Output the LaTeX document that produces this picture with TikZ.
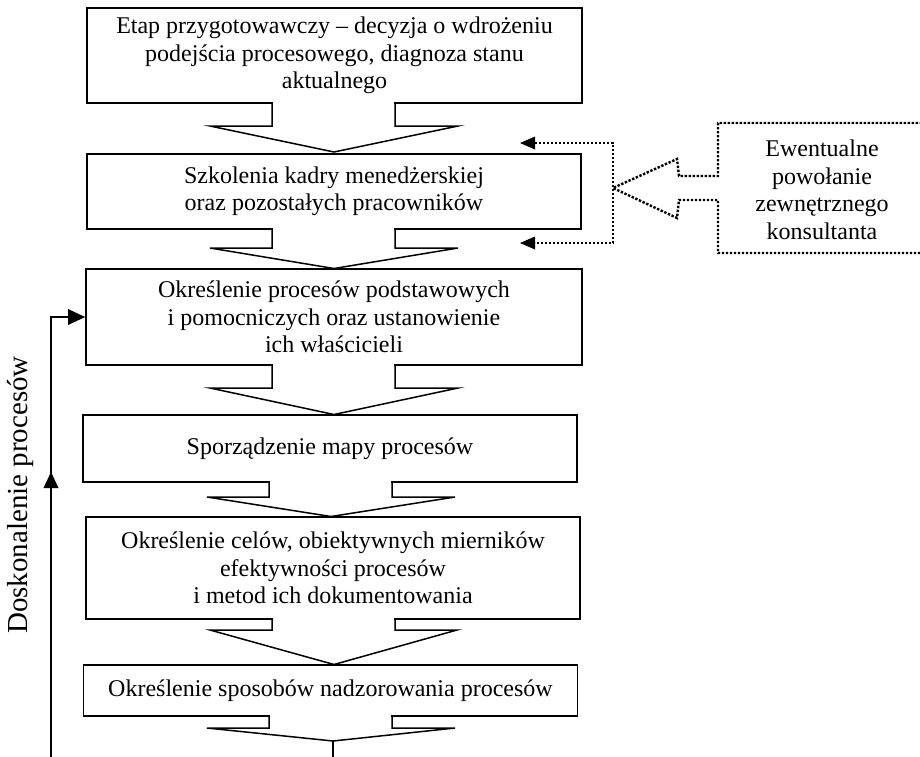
\documentclass[tikz,border=0pt]{standalone}
\usepackage{fontspec}
\setmainfont{Liberation Serif}
\usetikzlibrary{arrows.meta}
\newcommand{\blkarrow}[8]{%
  \fill[white] ({#2+1},{#1-2.5}) rectangle ({#3-1},{#1+2.5});
  \draw[blk] (#2,#1) -- (#2,#4) -- (#5,#4) -- (#7,#8) -- (#6,#4) -- (#3,#4) -- (#3,#1);
}
\begin{document}
\begin{tikzpicture}[x=1pt,y=-1pt,
  stepbox/.style={draw, line width=1.7pt, rectangle, inner sep=0pt, align=center,
    font=\fontsize{24}{27.5}\selectfont},
  blk/.style={line width=1.5pt, line join=miter},
  dots/.style={line width=2.4pt, dash pattern=on 2.4pt off 1.6pt},
  lbl/.style={font=\fontsize{24}{27.5}\selectfont, align=center, inner sep=0pt}]
\useasboundingbox (0,0) rectangle (920,756);
\clip (0,0) rectangle (920,756);
\fill[white] (0,0) rectangle (920,756);

% main boxes
\node[stepbox, minimum width=495pt, minimum height=95pt] (b1) at (334.5,55.5)
  {Etap przygotowawczy – decyzja o wdrożeniu\\podejścia procesowego, diagnoza stanu\\aktualnego};
\node[stepbox, minimum width=494pt, minimum height=75pt] (b2) at (334,191.5)
  {Szkolenia kadry menedżerskiej\\oraz pozostałych pracowników};
\node[stepbox, minimum width=496pt, minimum height=96pt] (b3) at (334,317)
  {Określenie procesów podstawowych\\i pomocniczych oraz ustanowienie\\ich właścicieli};
\node[stepbox, minimum width=494pt, minimum height=67pt] (b4) at (330,448.5)
  {Sporządzenie mapy procesów};
\node[stepbox, minimum width=494pt, minimum height=102pt] (b5) at (333,568)
  {Określenie celów, obiektywnych mierników\\efektywności procesów\\i metod ich dokumentowania};
\node[stepbox, minimum width=494pt, minimum height=51pt] (b6) at (330.5,690.5)
  {Określenie sposobów nadzorowania procesów};

% block arrows between boxes
\blkarrow{103}{272}{395}{126}{210}{458}{334}{152}
\blkarrow{229}{272}{395}{248}{210}{458}{334}{268.5}
\blkarrow{365}{272}{395}{388}{210}{458}{334}{414.5}
\blkarrow{482}{269}{392}{497}{207}{455}{331}{516.5}
\blkarrow{619}{272}{395}{630}{210}{457}{334}{664.5}
\blkarrow{716}{269}{392}{728}{207}{455}{333}{741}
\coordinate (tip6) at (333,741);
\coordinate (out6) at (333,760);
\draw[blk] (tip6) -- (out6);

% feedback loop on the left
\coordinate (fbB) at (51,760);
\coordinate (fbC) at (51,317);
\coordinate (fbE) at (69,317);
\draw[blk] (fbB) -- (fbC) -- (fbE);
\fill (b3.west) -- (68,309) -- (68,325) -- cycle;
\fill (51,472) -- (43.5,488) -- (58.5,488) -- cycle;
\node[rotate=90, font=\fontsize{29}{30}\selectfont, inner sep=0pt] (dosk) at (21,495) {Doskonalenie procesów};

% consultant (dotted) block arrow
\coordinate (J) at (613,188);
\draw[dots] (930,123) -- (718,123) -- (718,176) -- (679,176) -- (677,159) -- (J)
  -- (677,218) -- (679,200) -- (718,200) -- (718,253) -- (930,253);
\node[lbl] (cons) at (822,190) {Ewentualne\\powołanie\\zewnętrznego\\konsultanta};

% dotted arrows from the junction
\coordinate (up) at (613,143);
\coordinate (dn) at (613,243);
\coordinate (upB) at (535,143);
\coordinate (dnB) at (535,243);
\coordinate (upT) at (520,143);
\coordinate (dnT) at (520,243);
\draw[dots] (upB) -- (up) -- (dn) -- (dnB);
\fill (upT) -- (535,136.5) -- (535,149.5) -- cycle;
\fill (dnT) -- (535,236.5) -- (535,249.5) -- cycle;
\end{tikzpicture}
\end{document}
